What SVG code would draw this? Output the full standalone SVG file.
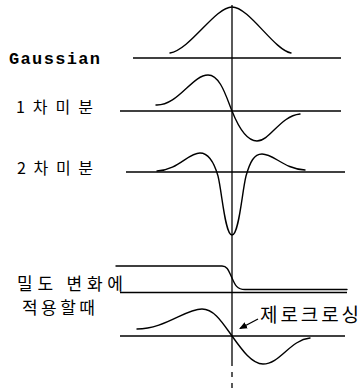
<svg xmlns="http://www.w3.org/2000/svg" width="364" height="388" viewBox="0 0 364 388">
<style>
.ln{fill:none;stroke:#000;stroke-width:1.3}
.cv{fill:none;stroke:#000;stroke-width:1.4;stroke-linejoin:round;stroke-linecap:round}
.kr{font-family:"Noto Sans CJK KR","Noto Sans",sans-serif;fill:#000}
.en{font-family:"Liberation Mono",monospace;font-weight:bold;fill:#000}
</style>
<defs>
<marker id="ah" markerWidth="8" markerHeight="8" refX="7" refY="4" orient="auto" markerUnits="userSpaceOnUse">
<path d="M0,0.5 L8,4 L0,7.5 Z" fill="#000"/>
</marker>
</defs>
<rect width="364" height="388" fill="#fff"/>
<g id="connectors">
<path class="ln" d="M232,5 L232,366"/>
<path class="ln" d="M232,372 L232,377 M232,383 L232,388"/>
<path class="ln" d="M133,58 L341,58"/>
<path class="ln" d="M120,111 L341,111"/>
<path class="ln" d="M126,172 L345,172"/>
<path class="ln" d="M120,292.5 L347,292.5"/>
<path class="ln" d="M120,336 L345,336"/>
<path class="ln" d="M258,319 L240,328.5" marker-end="url(#ah)"/>
</g>
<g id="gaussian">
<path class="cv" d="M170,53 C190,50 215,7 232,7 C249,7 274,50 291,53"/>
<text class="en" x="9" y="64" font-size="17" textLength="91" lengthAdjust="spacing">Gaussian</text>
</g>
<g id="first-derivative">
<path class="cv" d="M156,105 C178,106 192,75 208,75 C220,75 226,96 232,111 C238,126 246,141 257,141 C270,141 280,116 300,114"/>
<text class="kr" x="16" y="113" font-size="16" textLength="77" lengthAdjust="spacing">1차미분</text>
</g>
<g id="second-derivative">
<path class="cv" d="M157,171 C178,170 188,153 200,153 C209,153 214,162 218,176 C222,192 225,235 232,235 C239,235 242,192 246,176 C250,162 254,154 262,154 C274,154 284,169 305,170"/>
<text class="kr" x="17" y="174" font-size="16" textLength="76" lengthAdjust="spacing">2차미분</text>
</g>
<g id="density-step">
<path class="cv" d="M116,266 L222,266 C228,266 229,272 232,278 C235,285 237,289.5 245,289.5 L347,289.5"/>
<text class="kr" x="17" y="290" font-size="17" textLength="106" lengthAdjust="spacing">밀도 변화에</text>
<text class="kr" x="22" y="314" font-size="17" textLength="73" lengthAdjust="spacing">적용할때</text>
</g>
<g id="applied-response">
<path class="cv" d="M137,329 C165,329 185,309 202,309 C214,309 222,322 232,336 C242,350 252,364 263,364 C280,364 290,340 310,338"/>
</g>
<g id="zero-crossing-label">
<text class="kr" x="260" y="322" font-size="19" textLength="99" lengthAdjust="spacing">제로크로싱</text>
</g>
</svg>
